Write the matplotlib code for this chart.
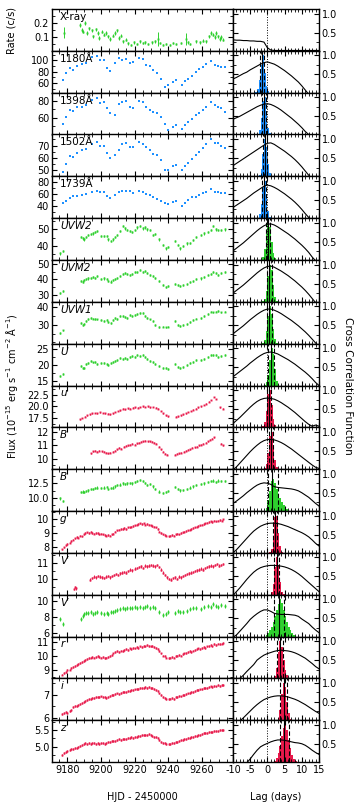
import matplotlib.pyplot as plt
from matplotlib.ticker import MultipleLocator

plt.rcParams['font.family'] = 'DejaVu Sans'
plt.rcParams['font.size'] = 7
plt.rcParams['mathtext.default'] = 'regular'
plt.rcParams['axes.unicode_minus'] = False

blue = '#1e90ff'
green = '#2ed02e'
red = '#e8194b'

# ---------------- light curves ----------------
t_xray = [9178.3, 9187.6, 9188.6, 9189.6, 9190.6, 9191.9, 9193.1, 9194.5, 9195.5, 9196.9,
          9198.1, 9199.0, 9200.5, 9201.8, 9203.0, 9204.4, 9205.4, 9207.0, 9208.4, 9209.4,
          9210.6, 9211.7, 9213.3, 9214.9, 9216.2, 9218.2, 9219.8, 9221.2, 9223.2, 9224.8,
          9226.1, 9228.1, 9230.1, 9232.1, 9233.7, 9235.0, 9237.0, 9239.0, 9241.0, 9242.9,
          9244.9, 9247.9, 9250.3, 9251.8, 9252.8, 9256.8, 9258.8, 9260.7, 9262.7, 9264.3,
          9265.7, 9266.6, 9267.7, 9268.7, 9269.6, 9270.6, 9271.6, 9272.6]
xray = [0.13, 0.186, 0.15, 0.138, 0.198, 0.127, 0.162, 0.146, 0.103, 0.155,
        0.127, 0.091, 0.138, 0.115, 0.127, 0.103, 0.084, 0.108, 0.127, 0.146,
        0.091, 0.108, 0.067, 0.079, 0.055, 0.043, 0.06, 0.05, 0.067, 0.055,
        0.06, 0.05, 0.06, 0.067, 0.085, 0.055, 0.043, 0.05, 0.043, 0.055,
        0.048, 0.055, 0.085, 0.06, 0.048, 0.067, 0.06, 0.074, 0.067, 0.103,
        0.127, 0.115, 0.098, 0.127, 0.103, 0.084, 0.098, 0.079]
xray_err = [0.04, 0.015, 0.012, 0.012, 0.015, 0.012, 0.012, 0.012, 0.012, 0.012,
            0.012, 0.012, 0.012, 0.012, 0.012, 0.012, 0.012, 0.012, 0.012, 0.012,
            0.012, 0.012, 0.01, 0.01, 0.01, 0.008, 0.008, 0.008, 0.008, 0.008,
            0.008, 0.008, 0.008, 0.008, 0.05, 0.008, 0.008, 0.008, 0.008, 0.008,
            0.008, 0.008, 0.045, 0.008, 0.008, 0.008, 0.008, 0.008, 0.008, 0.012,
            0.012, 0.012, 0.012, 0.012, 0.012, 0.012, 0.012, 0.012]

t_hst = [9177.5, 9179.1, 9181.7, 9183.3, 9186.0, 9188.6, 9191.2, 9194.5, 9197.5, 9199.5,
         9202.0, 9203.8, 9205.4, 9208.4, 9210.9, 9212.3, 9214.7, 9217.3, 9219.2, 9222.8,
         9224.8, 9226.7, 9229.1, 9231.1, 9233.4, 9236.0, 9238.0, 9240.0, 9242.6, 9244.9,
         9248.0, 9249.9, 9251.8, 9254.4, 9256.4, 9258.3, 9260.4, 9262.7, 9265.3, 9267.7,
         9269.6, 9271.6, 9273.6]
f1180 = [65.8, 77.7, 86.5, 83.5, 91.0, 93.6, 95.4, 106.0, 108.0, 101.0,
         100.0, 86.5, 80.6, 95.4, 104.0, 101.0, 102.5, 95.4, 96.6, 104.0,
         102.5, 92.4, 89.4, 83.5, 77.7, 67.0, 52.9, 56.4, 61.0, 64.6,
         57.0, 63.0, 68.0, 73.0, 79.0, 84.0, 89.0, 94.0, 99.0, 92.0,
         90.0, 89.0, 88.0]
f1398 = [51.8, 60.7, 69.0, 67.7, 72.3, 73.0, 75.0, 81.0, 84.0, 78.0,
         79.0, 72.0, 65.0, 63.0, 76.0, 78.5, 80.4, 73.0, 72.0, 80.4,
         79.0, 73.0, 69.0, 67.0, 65.0, 60.7, 52.0, 45.5, 48.5, 50.6,
         46.5, 50.6, 54.6, 58.8, 62.8, 66.0, 69.0, 73.0, 79.0, 75.0,
         73.0, 71.0, 67.0]
f1502 = [48.7, 55.3, 61.3, 60.5, 64.0, 66.0, 67.0, 71.0, 72.7, 70.0,
         70.0, 64.0, 60.0, 62.0, 66.7, 71.3, 72.0, 69.0, 69.0, 73.0,
         71.0, 68.7, 66.5, 63.0, 62.7, 58.0, 50.0, 50.5, 53.0, 54.5,
         50.0, 53.0, 56.0, 59.0, 62.0, 65.0, 68.0, 71.0, 75.0, 72.0,
         72.0, 70.0, 68.0]
f1739 = [44.4, 48.7, 54.0, 56.3, 56.3, 58.8, 60.0, 62.7, 64.0, 62.7,
         62.7, 57.0, 54.0, 58.0, 63.0, 64.0, 64.0, 64.0, 61.0, 65.5,
         62.7, 60.0, 58.0, 55.0, 52.0, 48.7, 44.4, 43.5, 47.0, 49.0,
         40.3, 44.6, 50.0, 54.4, 55.4, 58.2, 61.0, 62.6, 68.0, 62.6,
         63.4, 62.0, 61.0]

t_swift = [9175.7, 9177.7,
           9188.2, 9189.2, 9190.0, 9191.2, 9192.5, 9194.0, 9195.1, 9196.5, 9197.9, 9200.1,
           9202.0, 9203.4, 9204.4, 9205.8, 9207.0, 9208.4, 9209.7, 9211.3, 9212.9, 9214.3,
           9215.6, 9217.3, 9218.8, 9220.2, 9221.6, 9223.2, 9224.8, 9226.1, 9227.5, 9229.1,
           9230.7, 9232.1, 9234.6, 9237.0, 9239.0, 9240.0, 9243.9, 9245.9, 9246.9,
           9248.9, 9250.9, 9252.8, 9254.8, 9256.8, 9259.2, 9261.1, 9263.7, 9265.3, 9266.6,
           9268.3, 9269.6, 9271.6, 9273.6]
uvw2 = [35.6, 37.0,
        45.6, 44.6, 44.0, 45.6, 46.6, 47.2, 47.6, 48.6, 49.2, 46.0,
        46.0, 46.0, 44.0, 43.0, 44.0, 45.6, 46.6, 49.2, 52.0, 50.6,
        49.6, 49.2, 48.6, 49.6, 51.2, 52.0, 50.6, 51.2, 50.0, 49.6,
        46.6, 47.2, 44.0, 40.6, 38.6, 39.6, 43.0, 40.6, 38.6,
        40.0, 41.6, 42.0, 43.5, 45.6, 46.5, 47.6, 48.5, 49.8, 52.0,
        50.0, 49.6, 49.6, 50.0]
uvm2 = [31.0, 32.5,
        39.0, 38.5, 39.5, 40.0, 40.5, 41.0, 41.5, 41.0, 42.0, 40.0,
        40.5, 40.0, 39.0, 38.5, 39.5, 40.0, 41.0, 42.0, 43.5, 44.0,
        43.5, 43.0, 43.5, 44.5, 45.0, 46.0, 45.0, 45.5, 44.0, 43.0,
        42.0, 41.0, 39.0, 36.0, 35.0, 35.5, 37.0, 36.0, 35.5,
        36.0, 37.0, 38.0, 39.0, 40.0, 40.5, 41.5, 42.5, 43.5, 44.5,
        44.0, 43.0, 44.0, 44.5]
uvw1 = [25.3, 26.8,
        31.0, 30.0, 30.5, 32.0, 33.2, 33.8, 33.5, 33.2, 33.0, 32.5,
        32.0, 32.5, 31.5, 31.1, 32.5, 33.8, 33.2, 35.0, 35.0, 34.5,
        34.0, 35.5, 35.0, 35.5, 36.2, 36.8, 36.5, 35.0, 33.8, 33.0,
        32.0, 30.0, 28.7, 29.0, 28.5, 29.0, 32.0, 30.0, 29.5,
        30.0, 30.5, 31.5, 32.5, 33.5, 34.0, 35.0, 36.0, 37.5, 37.0,
        37.5, 38.0, 37.0, 37.5]
uu = [16.6, 17.2,
      19.7, 19.2, 19.0, 20.3, 20.7, 21.2, 20.8, 21.0, 20.3, 20.7,
      20.5, 20.3, 20.0, 20.5, 21.0, 21.2, 21.5, 22.2, 21.8, 22.2,
      22.0, 22.5, 22.8, 22.5, 23.2, 22.8, 23.0, 22.5, 22.0, 21.4,
      21.0, 20.3, 19.7, 19.2, 19.0, 18.8, 20.3, 19.5, 19.0,
      19.5, 20.0, 20.5, 21.0, 21.5, 21.5, 22.0, 22.5, 23.0, 23.2,
      23.0, 22.5, 22.8, 23.0]
bb_swift = [9.9, 9.5,
            11.0, 11.1, 11.0, 11.2, 11.3, 11.5, 11.6, 11.7, 11.8, 11.7,
            11.8, 11.9, 11.6, 11.7, 11.8, 12.0, 12.2, 12.3, 12.5, 12.4,
            12.5, 12.6, 12.5, 12.8, 12.9, 13.1, 12.9, 12.6, 12.2, 12.4,
            12.0, 11.6, 11.1, 10.8, 11.0, 11.2, 11.9, 11.6, 11.3,
            11.4, 11.6, 11.8, 12.0, 12.2, 12.4, 12.5, 12.7, 12.9, 13.0,
            12.8, 13.0, 12.9, 12.9]
vv_swift = [7.8, 7.2,
            7.8, 8.1, 8.4, 8.5, 8.5, 8.6, 8.4, 8.5, 8.6, 8.5,
            8.4, 8.5, 8.4, 8.6, 8.7, 8.8, 8.9, 9.0, 9.1, 9.0,
            9.2, 9.1, 9.2, 9.3, 9.2, 9.3, 9.2, 9.3, 9.4, 9.2,
            9.3, 9.1, 8.6, 8.3, 8.4, 8.6, 8.5, 8.8, 8.7,
            8.7, 8.8, 9.0, 9.1, 9.2, 9.0, 9.3, 9.4, 9.3, 9.6,
            9.4, 9.3, 9.5, 9.4]

t_u = [9187.5, 9189.0, 9190.5, 9192.0, 9193.5, 9195.0, 9196.5, 9198.0, 9199.5, 9201.0,
       9202.5, 9204.0, 9205.5, 9207.0, 9208.5, 9210.0, 9211.5, 9213.0, 9214.5, 9216.0,
       9217.5, 9219.0, 9220.5, 9222.0, 9223.5, 9225.0, 9226.5, 9228.0, 9229.5, 9231.0,
       9232.5, 9234.0, 9235.5, 9237.0, 9238.5, 9240.0, 9244.5, 9246.0, 9247.5, 9249.0,
       9250.5, 9252.0, 9253.5, 9255.0, 9256.5, 9258.0, 9259.5, 9261.0, 9262.5, 9264.0,
       9265.5, 9267.0, 9268.5, 9271.0, 9272.5]
u_ground = [17.2, 17.5, 17.8, 18.1, 18.3, 18.5, 18.6, 18.5, 18.7, 18.6,
            18.5, 18.4, 18.3, 18.5, 18.8, 19.0, 19.2, 19.5, 19.4, 19.6,
            19.5, 19.7, 19.8, 19.7, 19.9, 20.0, 19.9, 20.0, 19.8, 19.9,
            19.7, 19.5, 19.0, 18.5, 18.1, 17.9, 17.8, 17.9, 18.1, 18.3,
            18.5, 18.8, 19.0, 19.3, 19.5, 19.8, 20.0, 20.3, 20.6, 21.0,
            21.4, 22.0, 21.6, 19.8, 19.5]

t_b = [9194.0, 9195.3, 9196.6, 9197.9, 9199.2, 9200.5, 9201.8, 9203.1, 9204.4, 9205.7,
       9207.0, 9208.3, 9209.6, 9210.9, 9212.2, 9213.5, 9214.8, 9216.1, 9217.4, 9218.7,
       9220.0, 9221.3, 9222.6, 9223.9, 9225.2, 9226.5, 9227.8, 9229.1, 9230.4, 9231.7,
       9233.0, 9234.3, 9235.6, 9236.9, 9238.2, 9239.5, 9244.0, 9245.3, 9246.6, 9247.9,
       9249.2, 9250.5, 9251.8, 9253.1, 9254.4, 9255.7, 9257.0, 9258.3, 9259.6, 9260.9,
       9262.2, 9263.5, 9264.8, 9266.1, 9267.4, 9271.5, 9272.8]
b_ground = [10.4, 10.55, 10.6, 10.5, 10.6, 10.55, 10.5, 10.45, 10.4, 10.45,
            10.5, 10.6, 10.7, 10.8, 10.75, 10.9, 10.95, 11.0, 11.05, 11.1,
            11.05, 11.15, 11.2, 11.25, 11.3, 11.35, 11.3, 11.3, 11.25, 11.2,
            11.1, 10.9, 10.7, 10.5, 10.35, 10.3, 10.3, 10.35, 10.4, 10.45,
            10.5, 10.6, 10.65, 10.7, 10.8, 10.85, 10.9, 11.0, 11.05, 11.1,
            11.2, 11.3, 11.4, 11.5, 11.6, 11.1, 11.0]

t_dense = [9177.2, 9178.1, 9179.3, 9180.2, 9181.4, 9182.3, 9183.5, 9184.4, 9185.6, 9186.5,
           9187.7, 9188.6, 9189.8, 9190.7, 9191.9, 9192.8, 9194.0, 9194.9, 9196.1, 9197.0,
           9198.2, 9199.1, 9200.3, 9201.2, 9202.4, 9203.3, 9204.5, 9205.4, 9206.6, 9207.5,
           9208.7, 9209.6, 9210.8, 9211.7, 9212.9, 9213.8, 9215.0, 9215.9, 9217.1, 9218.0,
           9219.2, 9220.1, 9221.3, 9222.2, 9223.4, 9224.3, 9225.5, 9226.4, 9227.6, 9228.5,
           9229.7, 9230.6, 9231.8, 9232.7, 9233.9, 9234.8, 9236.0, 9236.9, 9238.1, 9239.0,
           9240.2, 9241.1, 9242.3, 9243.2, 9244.4, 9245.3, 9246.5, 9247.4, 9248.6, 9249.5,
           9250.7, 9251.6, 9252.8, 9253.7, 9254.9, 9255.8, 9257.0, 9257.9, 9259.1, 9260.0,
           9261.2, 9262.1, 9263.3, 9264.2, 9265.4, 9266.3, 9267.5, 9268.4, 9269.6, 9270.5,
           9271.7, 9272.6]
g_ground = [7.8, 7.95, 8.1, 8.2, 8.3, 8.4, 8.5, 8.6, 8.7, 8.65,
            8.8, 8.75, 8.9, 9.0, 9.05, 9.0, 9.1, 9.0, 8.95, 9.0,
            9.0, 8.9, 8.95, 8.9, 8.85, 8.8, 8.85, 8.8, 8.9, 8.95,
            9.1, 9.2, 9.25, 9.3, 9.3, 9.35, 9.3, 9.4, 9.4, 9.45,
            9.5, 9.55, 9.6, 9.65, 9.7, 9.65, 9.7, 9.6, 9.65, 9.6,
            9.55, 9.5, 9.45, 9.4, 9.3, 9.1, 9.0, 8.9, 8.85, 8.8,
            8.75, 8.8, 8.85, 8.8, 8.9, 8.95, 8.9, 9.0, 9.05, 9.1,
            9.15, 9.2, 9.25, 9.3, 9.35, 9.4, 9.45, 9.5, 9.55, 9.6,
            9.65, 9.7, 9.75, 9.8, 9.85, 9.8, 9.9, 9.85, 9.9, 9.95,
            9.9, 10.0]
r_ground = [8.7, 8.8, 8.9, 9.0, 9.05, 9.15, 9.25, 9.3, 9.4, 9.45,
            9.5, 9.6, 9.65, 9.75, 9.8, 9.85, 9.9, 9.95, 9.9, 9.95,
            10.0, 9.95, 9.9, 9.95, 9.85, 9.9, 9.95, 10.0, 10.1, 10.2,
            10.3, 10.35, 10.3, 10.4, 10.35, 10.45, 10.5, 10.45, 10.55, 10.5,
            10.6, 10.55, 10.65, 10.6, 10.7, 10.65, 10.75, 10.7, 10.8, 10.75,
            10.7, 10.75, 10.65, 10.6, 10.5, 10.35, 10.2, 10.05, 10.0, 9.9,
            9.85, 9.9, 9.95, 9.9, 10.0, 10.05, 10.1, 10.05, 10.15, 10.2,
            10.25, 10.3, 10.35, 10.3, 10.4, 10.45, 10.5, 10.55, 10.5, 10.6,
            10.65, 10.6, 10.7, 10.75, 10.8, 10.7, 10.85, 10.8, 10.9, 10.85,
            10.9, 10.95]
i_ground = [6.15, 6.2, 6.25, 6.2, 6.3, 6.35, 6.45, 6.5, 6.5, 6.55,
            6.6, 6.65, 6.7, 6.72, 6.75, 6.8, 6.82, 6.85, 6.85, 6.9,
            6.9, 6.88, 6.92, 6.9, 6.88, 6.86, 6.9, 6.93, 6.97, 7.0,
            7.02, 7.05, 7.03, 7.08, 7.1, 7.12, 7.1, 7.15, 7.17, 7.2,
            7.18, 7.22, 7.25, 7.23, 7.28, 7.3, 7.27, 7.32, 7.3, 7.33,
            7.3, 7.28, 7.25, 7.2, 7.15, 7.05, 6.98, 6.9, 6.85, 6.82,
            6.8, 6.83, 6.85, 6.82, 6.88, 6.9, 6.93, 6.92, 6.97, 7.0,
            7.02, 7.05, 7.08, 7.1, 7.12, 7.15, 7.18, 7.2, 7.22, 7.25,
            7.27, 7.3, 7.28, 7.32, 7.35, 7.33, 7.37, 7.35, 7.4, 7.38,
            7.4, 7.42]
z_ground = [4.75, 4.8, 4.85, 4.88, 4.9, 4.93, 4.92, 4.95, 4.97, 5.0,
            5.02, 5.05, 5.08, 5.1, 5.07, 5.1, 5.08, 5.1, 5.12, 5.09,
            5.1, 5.08, 5.12, 5.1, 5.09, 5.11, 5.13, 5.15, 5.16, 5.18,
            5.17, 5.2, 5.22, 5.21, 5.23, 5.24, 5.22, 5.25, 5.26, 5.28,
            5.27, 5.29, 5.3, 5.31, 5.33, 5.35, 5.34, 5.36, 5.35, 5.37,
            5.35, 5.33, 5.3, 5.28, 5.25, 5.2, 5.15, 5.12, 5.1, 5.08,
            5.07, 5.09, 5.1, 5.12, 5.14, 5.15, 5.17, 5.19, 5.2, 5.22,
            5.24, 5.25, 5.27, 5.28, 5.3, 5.32, 5.33, 5.35, 5.36, 5.38,
            5.4, 5.42, 5.41, 5.43, 5.45, 5.44, 5.46, 5.48, 5.47, 5.5,
            5.49, 5.5]

t_v = [9184.3, 9184.9, 9185.5,
       9193.6, 9194.8, 9196.0, 9197.2, 9198.4, 9199.6, 9200.8, 9202.0, 9203.2, 9204.4,
       9205.6, 9206.8, 9208.0, 9209.2, 9210.4, 9211.6, 9212.8, 9214.0, 9215.2, 9216.4,
       9217.6, 9218.8, 9220.0, 9221.2, 9222.4, 9223.6, 9224.8, 9226.0, 9227.2, 9228.4,
       9229.6, 9230.8, 9232.0, 9233.2, 9234.4, 9235.6, 9236.8, 9238.0, 9239.2, 9240.4,
       9241.6, 9242.8, 9244.0, 9245.2, 9246.4, 9247.6, 9248.8, 9250.0, 9251.2, 9252.4,
       9253.6, 9254.8, 9256.0, 9257.2, 9258.4, 9259.6, 9260.8, 9262.0, 9263.2, 9264.4,
       9265.6, 9266.8, 9268.0, 9269.2, 9270.4, 9271.6, 9272.8]
v_ground = [9.35, 9.5, 9.4,
            9.95, 10.05, 10.15, 10.1, 10.2, 10.15, 10.1, 10.05, 10.15, 10.2,
            10.1, 10.2, 10.25, 10.3, 10.25, 10.35, 10.4, 10.45, 10.4, 10.5,
            10.6, 10.55, 10.65, 10.7, 10.75, 10.8, 10.7, 10.85, 10.8, 10.85,
            10.9, 10.85, 10.8, 10.9, 10.75, 10.6, 10.4, 10.25, 10.1, 10.0,
            9.95, 10.05, 10.1, 10.0, 10.15, 10.1, 10.2, 10.25, 10.3, 10.35,
            10.4, 10.45, 10.5, 10.55, 10.6, 10.65, 10.6, 10.7, 10.75, 10.8,
            10.85, 10.8, 10.9, 10.95, 10.85, 10.9, 10.95]

# ---------------- cross correlation ----------------
lags = [-10, -9, -8, -7, -6, -5, -4, -3, -2, -1, 0, 1, 2, 3, 4, 5, 6, 7, 8, 9, 10, 11, 12, 13, 14, 15]
ccf_xray = [0.31, 0.3, 0.3, 0.29, 0.29, 0.28, 0.28, 0.27, 0.27, 0.25, 0.1, 0.04, 0.03, 0.03, 0.03, 0.03,
            0.03, 0.03, 0.03, 0.03, 0.03, 0.03, 0.03, 0.03, 0.03, 0.03]
ccf_1180 = [0.38, 0.42, 0.47, 0.52, 0.56, 0.62, 0.67, 0.72, 0.77, 0.81, 0.83, 0.8, 0.77, 0.72, 0.66, 0.6,
            0.53, 0.46, 0.38, 0.3, 0.2, 0.09, -0.02, -0.1, -0.15, -0.2]
ccf_1398 = [0.42, 0.46, 0.5, 0.55, 0.6, 0.65, 0.7, 0.75, 0.79, 0.82, 0.83, 0.81, 0.77, 0.72, 0.66, 0.59,
            0.52, 0.45, 0.37, 0.29, 0.2, 0.1, 0.02, -0.05, -0.1, -0.15]
ccf_1502 = [0.3, 0.36, 0.42, 0.48, 0.54, 0.6, 0.66, 0.72, 0.78, 0.84, 0.89, 0.9, 0.86, 0.8, 0.74, 0.68,
            0.61, 0.54, 0.46, 0.37, 0.27, 0.16, 0.05, -0.05, -0.1, -0.15]
ccf_1739 = [0.3, 0.36, 0.42, 0.48, 0.54, 0.61, 0.68, 0.74, 0.8, 0.86, 0.89, 0.87, 0.83, 0.78, 0.72, 0.66,
            0.59, 0.52, 0.44, 0.35, 0.25, 0.14, 0.04, -0.05, -0.1, -0.15]
ccf_uvw2 = [0.26, 0.33, 0.4, 0.47, 0.55, 0.63, 0.71, 0.79, 0.86, 0.92, 0.96, 0.97, 0.94, 0.89, 0.83, 0.77,
            0.71, 0.64, 0.57, 0.49, 0.41, 0.32, 0.22, 0.1, 0.0, -0.1]
ccf_uvm2 = [0.25, 0.32, 0.39, 0.46, 0.54, 0.62, 0.7, 0.78, 0.85, 0.91, 0.95, 0.96, 0.93, 0.88, 0.83, 0.77,
            0.71, 0.64, 0.57, 0.49, 0.41, 0.32, 0.22, 0.11, 0.0, -0.1]
ccf_uvw1 = [0.28, 0.35, 0.42, 0.49, 0.57, 0.65, 0.72, 0.79, 0.85, 0.9, 0.93, 0.93, 0.9, 0.86, 0.81, 0.75,
            0.69, 0.63, 0.56, 0.49, 0.41, 0.33, 0.24, 0.14, 0.04, -0.05]
ccf_u = [0.25, 0.32, 0.39, 0.46, 0.53, 0.61, 0.68, 0.75, 0.81, 0.86, 0.89, 0.9, 0.88, 0.85, 0.8, 0.75,
         0.7, 0.64, 0.58, 0.51, 0.44, 0.37, 0.29, 0.2, 0.1, 0.02]
ccf_ug = [0.12, 0.2, 0.28, 0.37, 0.46, 0.55, 0.63, 0.7, 0.75, 0.78, 0.79, 0.78, 0.76, 0.72, 0.67, 0.61,
          0.55, 0.48, 0.41, 0.33, 0.25, 0.17, 0.1, 0.05, 0.08, 0.05]
ccf_bg = [0.0, 0.08, 0.18, 0.28, 0.38, 0.48, 0.57, 0.65, 0.72, 0.77, 0.8, 0.8, 0.79, 0.76, 0.72, 0.67,
          0.61, 0.55, 0.48, 0.41, 0.34, 0.27, 0.2, 0.13, 0.07, 0.04]
ccf_bs = [0.22, 0.28, 0.35, 0.42, 0.5, 0.57, 0.64, 0.7, 0.74, 0.76, 0.75, 0.72, 0.66, 0.64, 0.63, 0.62,
          0.61, 0.6, 0.58, 0.55, 0.5, 0.44, 0.38, 0.3, 0.22, 0.15]
ccf_g = [0.02, 0.1, 0.2, 0.3, 0.4, 0.5, 0.59, 0.66, 0.72, 0.76, 0.79, 0.8, 0.8, 0.79, 0.77, 0.74,
         0.71, 0.67, 0.63, 0.59, 0.55, 0.5, 0.44, 0.36, 0.27, 0.2]
ccf_vg = [0.0, 0.1, 0.2, 0.31, 0.42, 0.52, 0.61, 0.68, 0.73, 0.76, 0.78, 0.79, 0.79, 0.78, 0.77, 0.75,
          0.72, 0.68, 0.63, 0.57, 0.5, 0.42, 0.34, 0.26, 0.18, 0.1]
ccf_vs = [0.0, 0.06, 0.16, 0.26, 0.36, 0.47, 0.55, 0.62, 0.68, 0.72, 0.72, 0.68, 0.63, 0.61, 0.6, 0.6,
          0.6, 0.59, 0.58, 0.55, 0.48, 0.42, 0.36, 0.27, 0.19, 0.12]
ccf_r = [-0.1, -0.05, 0.02, 0.1, 0.2, 0.29, 0.38, 0.5, 0.57, 0.63, 0.67, 0.7, 0.73, 0.75, 0.76, 0.75,
         0.74, 0.72, 0.69, 0.65, 0.6, 0.55, 0.48, 0.41, 0.33, 0.27]
ccf_i = [-0.1, -0.05, 0.0, 0.08, 0.17, 0.26, 0.35, 0.43, 0.5, 0.56, 0.6, 0.63, 0.65, 0.66, 0.66, 0.65,
         0.63, 0.6, 0.57, 0.53, 0.48, 0.43, 0.37, 0.31, 0.25, 0.2]
ccf_z = [-0.3, -0.2, -0.12, -0.06, 0.0, 0.1, 0.22, 0.33, 0.42, 0.47, 0.51, 0.55, 0.58, 0.6, 0.6, 0.59,
         0.57, 0.55, 0.53, 0.52, 0.5, 0.46, 0.4, 0.33, 0.27, 0.22]

# lag distributions: left edge of first 0.5-day bin, normalised bin heights
hist_start = [None, -3.5, -3.0, -2.5, -3.0, -2.0, -1.5, -1.5, -1.0, -1.5, -1.0, -1.0, 0.5, 0.5, -1.0, 1.5, 2.5, 1.5]
hist_h = [
    None,
    [0.04, 0.12, 0.35, 0.75, 1.0, 0.55, 0.2, 0.06],
    [0.04, 0.15, 0.45, 0.9, 1.0, 0.6, 0.2, 0.05],
    [0.05, 0.2, 0.6, 1.0, 0.8, 0.35, 0.1, 0.03],
    [0.03, 0.12, 0.4, 0.85, 1.0, 0.55, 0.2, 0.05],
    [0.03, 0.1, 0.3, 0.7, 1.0, 0.9, 0.5, 0.2, 0.06, 0.02],
    [0.03, 0.1, 0.3, 0.7, 1.0, 0.85, 0.45, 0.15, 0.05, 0.02],
    [0.04, 0.12, 0.35, 0.75, 1.0, 0.8, 0.4, 0.15, 0.05],
    [0.03, 0.1, 0.3, 0.7, 1.0, 0.85, 0.45, 0.15, 0.05, 0.02],
    [0.05, 0.15, 0.45, 0.9, 1.0, 0.6, 0.25, 0.08, 0.02],
    [0.04, 0.15, 0.45, 0.9, 1.0, 0.6, 0.25, 0.08, 0.02],
    [0.03, 0.1, 0.3, 0.55, 0.8, 0.85, 0.75, 0.6, 0.45, 0.35, 0.25, 0.17, 0.1, 0.06, 0.03],
    [0.03, 0.12, 0.45, 0.95, 1.0, 0.55, 0.2, 0.05],
    [0.02, 0.08, 0.3, 0.75, 1.0, 0.8, 0.35, 0.1, 0.03],
    [0.02, 0.05, 0.1, 0.18, 0.28, 0.4, 0.55, 0.72, 0.88, 1.0, 0.9, 0.72, 0.55, 0.4, 0.28, 0.18, 0.1, 0.05, 0.02],
    [0.02, 0.08, 0.3, 0.7, 1.0, 0.85, 0.5, 0.25, 0.1, 0.03],
    [0.02, 0.08, 0.3, 0.7, 1.0, 0.9, 0.5, 0.2, 0.06, 0.02],
    [0.02, 0.05, 0.12, 0.25, 0.45, 0.7, 0.92, 1.0, 0.85, 0.6, 0.38, 0.2, 0.1, 0.04, 0.02],
]
lag_med = [None, -1.5, -1.0, -0.7, -1.0, 0.2, 0.6, 0.5, 1.0, 0.5, 1.0, 1.3, 2.2, 2.7, 3.3, 3.6, 4.7, 4.9]
lag_lo = [None, -2.2, -1.6, -1.3, -1.6, -0.5, -0.1, -0.2, 0.3, -0.1, 0.4, 0.2, 1.6, 1.9, 1.8, 2.8, 3.7, 3.6]
lag_hi = [None, -0.9, -0.3, -0.1, -0.3, 0.9, 1.3, 1.2, 1.8, 1.1, 1.7, 3.0, 2.8, 3.5, 4.7, 4.6, 5.6, 6.3]

labels = ['X-ray', '1180Å', '1398Å', '1502Å', '1739Å', 'UVW2', 'UVM2', 'UVW1', 'U', 'u',
          'B', 'B', 'g', 'V', 'V', 'r', 'i', 'z']
italic = [False] * 5 + [True] * 13
colors = [green, blue, blue, blue, blue, green, green, green, green, red,
          red, green, red, red, green, red, red, red]
curves = [(t_xray, xray, xray_err), (t_hst, f1180, 0), (t_hst, f1398, 0), (t_hst, f1502, 0),
          (t_hst, f1739, 0), (t_swift, uvw2, 0.7), (t_swift, uvm2, 0.7), (t_swift, uvw1, 0.5),
          (t_swift, uu, 0.3), (t_u, u_ground, 0.08), (t_b, b_ground, 0.04), (t_swift, bb_swift, 0.2),
          (t_dense, g_ground, 0.05), (t_v, v_ground, 0.08), (t_swift, vv_swift, 0.25),
          (t_dense, r_ground, 0.06), (t_dense, i_ground, 0.04), (t_dense, z_ground, 0.03)]
ccfs = [ccf_xray, ccf_1180, ccf_1398, ccf_1502, ccf_1739, ccf_uvw2, ccf_uvm2, ccf_uvw1, ccf_u,
        ccf_ug, ccf_bg, ccf_bs, ccf_g, ccf_vg, ccf_vs, ccf_r, ccf_i, ccf_z]
ylims = [(0, 0.3), (43, 117), (39.5, 90), (45, 79), (20, 89), (31.6, 56.8), (25.2, 52.6),
         (19.3, 43), (13.7, 26.6), (15.5, 24.5), (9.2, 12.35), (7.7, 15), (7.55, 10.6),
         (9.0, 11.66), (5.6, 10.8), (8.43, 11.4), (5.9, 7.7), (4.54, 5.8)]
yticks = [[0.1, 0.2], [60, 80, 100], [60, 80], [50, 60, 70], [40, 60, 80], [40, 50],
          [30, 40, 50], [30, 40], [15, 20, 25], [17.5, 20.0, 22.5], [10, 11, 12],
          [10.0, 12.5], [8, 9, 10], [10, 11], [6, 8, 10], [9, 10, 11], [6, 7], [5.0, 5.5]]
ytick_text = [['0.1', '0.2'], ['60', '80', '100'], ['60', '80'], ['50', '60', '70'],
              ['40', '60', '80'], ['40', '50'], ['30', '40', '50'], ['30', '40'],
              ['15', '20', '25'], ['17.5', '20.0', '22.5'], ['10', '11', '12'],
              ['10.0', '12.5'], ['8', '9', '10'], ['10', '11'], ['6', '8', '10'],
              ['9', '10', '11'], ['6', '7'], ['5.0', '5.5']]

# ---------------- figure ----------------
W, H = 357, 809
fig = plt.figure(figsize=(W / 100, H / 100), dpi=100)
top, bot = 9, 762
rh = (bot - top) / len(labels)

for k in range(len(labels)):
    y0 = 1 - (top + (k + 1) * rh) / H
    axl = fig.add_axes([52 / W, y0, 181 / W, rh / H])
    axr = fig.add_axes([233 / W, y0, 86 / W, rh / H])

    t, v, e = curves[k]
    if k in (1, 2, 3, 4):
        axl.plot(t, v, 's', ms=1.6, mew=0, color=colors[k])
    else:
        axl.errorbar(t, v, yerr=e, fmt='s', ms=1.4, mew=0, elinewidth=0.7,
                     capsize=0, color=colors[k])
    axl.set_xlim(9171, 9278.5)
    axl.xaxis.set_major_locator(MultipleLocator(20))
    axl.xaxis.set_minor_locator(MultipleLocator(5))
    step = yticks[k][1] - yticks[k][0]
    axl.yaxis.set_minor_locator(MultipleLocator(step / 2))
    axl.set_yticks(yticks[k])
    axl.set_yticklabels(ytick_text[k])
    axl.set_ylim(*ylims[k])
    axl.text(0.045, 0.93, labels[k], transform=axl.transAxes, va='top', ha='left',
             fontsize=7.5, style='italic' if italic[k] else 'normal')

    if hist_h[k] is not None:
        edges = [hist_start[k] + 0.5 * j for j in range(len(hist_h[k]))]
        axr.bar(edges, hist_h[k], width=0.5, align='edge', color=colors[k], linewidth=0)
        axr.axvline(lag_med[k], color='k', lw=0.8)
        axr.axvline(lag_lo[k], color='k', lw=0.8, ls=(0, (4, 2)))
        axr.axvline(lag_hi[k], color='k', lw=0.8, ls=(0, (4, 2)))
    axr.axvline(0, color='k', lw=0.7, ls=':')
    axr.plot(lags, ccfs[k], color='k', lw=0.8)
    axr.set_xlim(-10, 15)
    axr.set_ylim(0.02, 1.12)
    axr.xaxis.set_major_locator(MultipleLocator(5))
    axr.xaxis.set_minor_locator(MultipleLocator(1))
    axr.yaxis.set_minor_locator(MultipleLocator(0.25))
    axr.set_yticks([0.5, 1.0])
    axr.set_yticklabels(['0.5', '1.0'])
    axr.yaxis.tick_right()

    for ax in (axl, axr):
        ax.tick_params(which='both', direction='in', top=True, bottom=True, left=True,
                       right=True, labelsize=7, pad=2)
        ax.tick_params(which='major', length=3.5, width=0.8)
        ax.tick_params(which='minor', length=2, width=0.6)
        for sp in ax.spines.values():
            sp.set_linewidth(1.0)
        if k < len(labels) - 1:
            ax.tick_params(labelbottom=False)
    axr.tick_params(labelleft=False, labelright=True)

fig.text(12 / W, 1 - 31 / H, 'Rate (c/s)', rotation=90, ha='center', va='center', fontsize=7)
fig.text(12 / W, 1 - 386 / H, 'Flux (10$^{-15}$ erg s$^{-1}$ cm$^{-2}$ Å$^{-1}$)',
         rotation=90, ha='center', va='center', fontsize=7)
fig.text(348 / W, 1 - 386 / H, 'Cross Correlation Function', rotation=-90,
         ha='center', va='center', fontsize=7.5)
fig.text(142.5 / W, 1 - 797 / H, 'HJD - 2450000', ha='center', va='center', fontsize=7)
fig.text(276 / W, 1 - 797 / H, 'Lag (days)', ha='center', va='center', fontsize=7)

fig.savefig('out.png', dpi=100)
